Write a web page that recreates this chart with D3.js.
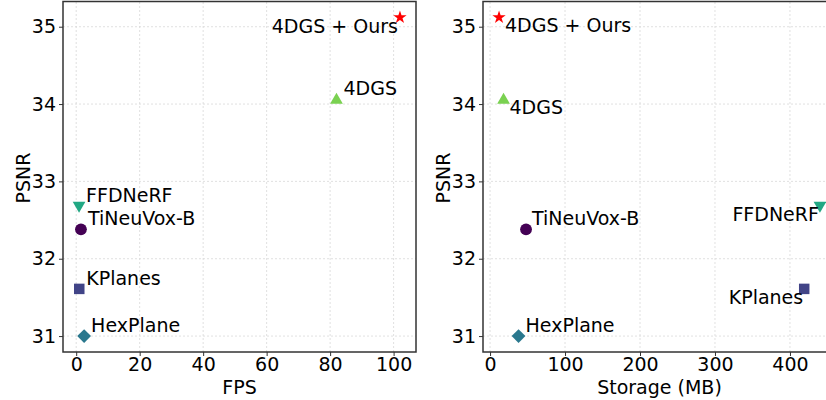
<!DOCTYPE html>
<html>
<head>
<meta charset="utf-8">
<script src="https://d3js.org/d3.v7.min.js"></script>
<style>
  body { margin: 0; background: #fff; }
  text { font-family: "DejaVu Sans", sans-serif; fill: #000; }
</style>
</head>
<body>
<svg id="vis"></svg>
<script>
  // values
  var methods = ['TiNeuVox-B', 'KPlanes', 'HexPlane', 'FFDNeRF', '4DGS', '4DGS + Ours']
  var psnr = [32.38, 31.61, 31.0, 32.69, 34.05, 35.12]
  var fps = [1.5, 0.97, 2.5, 0.9, 82, 102]
  var storage = [48, 419, 38, 440, 18, 12]
  var colors = ['#440154', '#414487', '#2a788e', '#22a884', '#7ad151', '#ff0000']
  var yTicks = [31, 32, 33, 34, 35]
  var fpsTicks = [0, 20, 40, 60, 80, 100]
  var storageTicks = [0, 100, 200, 300, 400]

  var visWidth = 826
  var visHeight = 400
  var fontSize = 19

  var svg = d3.select('#vis')
    .attr('width', visWidth)
    .attr('height', visHeight)

  var shapes = [
    {type: d3.symbolCircle, size: 110, rot: 0},
    {type: d3.symbolSquare, size: 110, rot: 0},
    {type: d3.symbolSquare, size: 95, rot: 45},
    {type: d3.symbolTriangle, size: 70, rot: 180},
    {type: d3.symbolTriangle, size: 70, rot: 0},
    {type: d3.symbolStar, size: 55, rot: 0}
  ]

  // label offsets per panel: [dx, dy, anchor]
  var fpsLabels = [[7, -4, 'start'], [7, -4, 'start'], [7, -4, 'start'], [7, -3, 'start'], [7, -5, 'start'], [-2, 16, 'end']]
  var storageLabels = [[6, -4, 'start'], [-1, 15, 'end'], [7, -4, 'start'], [-1, 16, 'end'], [6, 14, 'start'], [6, 15, 'start']]

  function pad(lo, hi) {
    var m = (hi - lo) * 0.05
    return [lo - m, hi + m]
  }

  function drawPanel(left, right, xs, xTicks, xLabel, labels) {
    var x = d3.scaleLinear().domain(pad(d3.min(xs), d3.max(xs))).range([left, right])
    var y = d3.scaleLinear().domain(pad(d3.min(psnr), d3.max(psnr))).range([352, 1.5])
    var g = svg.append('g')

    // grid
    g.selectAll('.gx').data(xTicks).enter().append('line')
      .attr('x1', d => x(d)).attr('x2', d => x(d))
      .attr('y1', y.range()[0]).attr('y2', y.range()[1])
      .attr('stroke', '#d8d8d8').attr('stroke-dasharray', '2,2').attr('stroke-width', 0.8)
    g.selectAll('.gy').data(yTicks).enter().append('line')
      .attr('y1', d => y(d)).attr('y2', d => y(d))
      .attr('x1', left).attr('x2', right)
      .attr('stroke', '#d8d8d8').attr('stroke-dasharray', '2,2').attr('stroke-width', 0.8)

    var xAxis = g.append('g').attr('transform', 'translate(0,352)')
      .call(d3.axisBottom(x).tickValues(xTicks).tickSize(4).tickPadding(1.5).tickFormat(d3.format('d')))
    var yAxis = g.append('g').attr('transform', 'translate(' + left + ',0)')
      .call(d3.axisLeft(y).tickValues(yTicks).tickSize(4).tickPadding(3).tickFormat(d3.format('d')))
    ;[xAxis, yAxis].forEach(a => {
      a.select('.domain').remove()
      a.selectAll('text').style('font-size', fontSize + 'px').attr('font-family', null)
      a.selectAll('line').attr('stroke', '#333')
    })

    // frame
    g.append('rect')
      .attr('x', left).attr('y', y.range()[1])
      .attr('width', right - left).attr('height', y.range()[0] - y.range()[1])
      .attr('fill', 'none').attr('stroke', '#333').attr('stroke-width', 1.5)

    g.append('text')
      .attr('x', (left + Math.min(right, visWidth)) / 2 + (right > visWidth ? 5 : 0))
      .attr('y', 393.5)
      .attr('text-anchor', 'middle')
      .style('font-size', fontSize + 'px')
      .text(xLabel)
    g.append('text')
      .attr('transform', 'translate(' + (left - 33) + ',178) rotate(-90)')
      .attr('text-anchor', 'middle')
      .style('font-size', fontSize + 'px')
      .text('PSNR')

    g.selectAll('.pt').data(methods).enter().append('path')
      .attr('d', (d, i) => d3.symbol().type(shapes[i].type).size(shapes[i].size)())
      .attr('transform', (d, i) => 'translate(' + x(xs[i]) + ',' + y(psnr[i]) + ') rotate(' + shapes[i].rot + ')')
      .attr('fill', (d, i) => colors[i])

    g.selectAll('.lbl').data(methods).enter().append('text')
      .attr('x', (d, i) => x(xs[i]) + labels[i][0])
      .attr('y', (d, i) => y(psnr[i]) + labels[i][1])
      .attr('text-anchor', (d, i) => labels[i][2])
      .style('font-size', fontSize + 'px')
      .text(d => d)
  }

  drawPanel(63, 416, fps, fpsTicks, 'FPS', fpsLabels)
  drawPanel(483, 836, storage, storageTicks, 'Storage (MB)', storageLabels)
</script>
</body>
</html>
